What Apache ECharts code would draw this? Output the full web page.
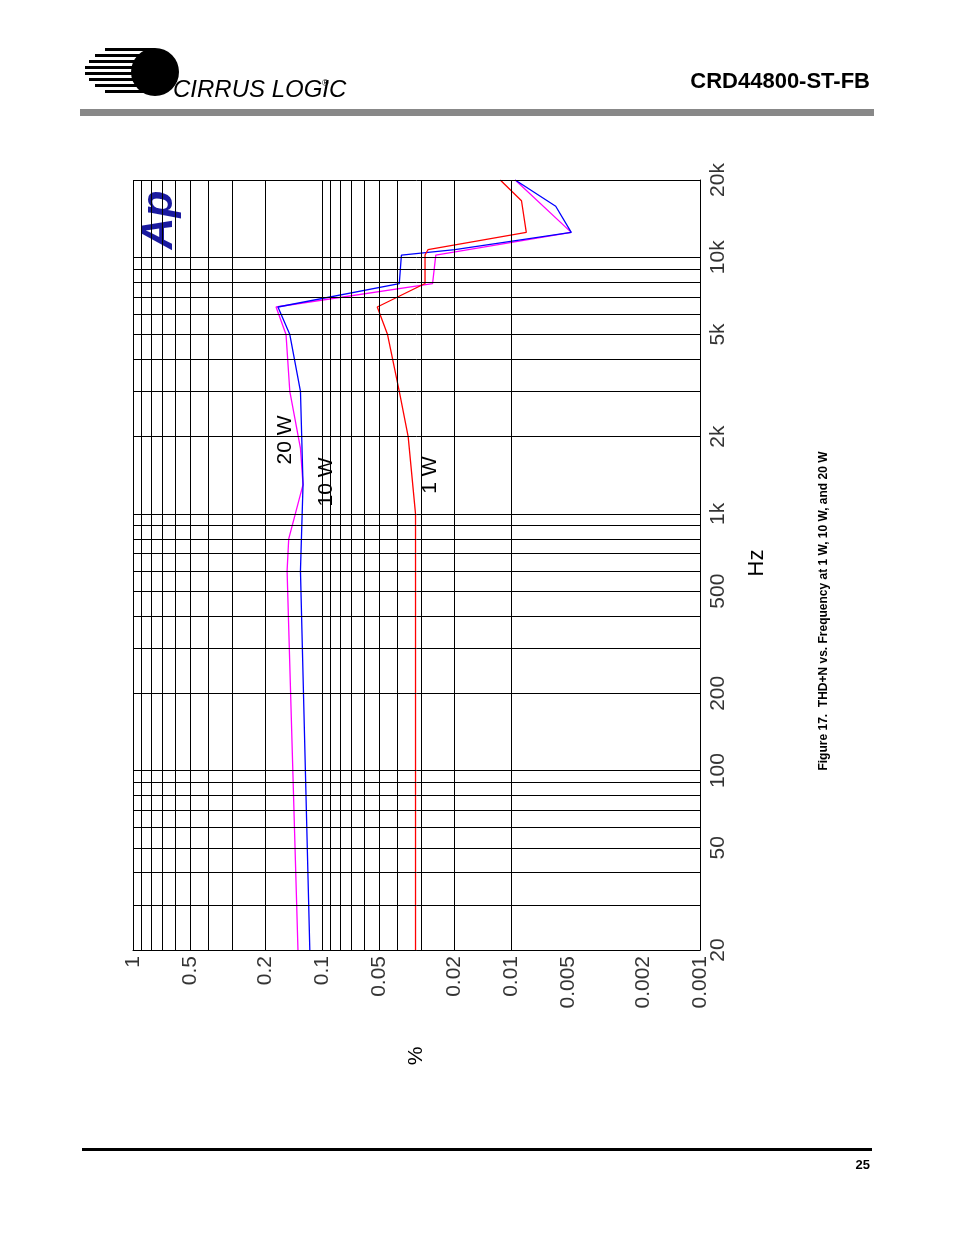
<!DOCTYPE html>
<html><head><meta charset="utf-8">
<script src="https://cdn.jsdelivr.net/npm/echarts@6/dist/echarts.min.js"></script>
<style>html,body{margin:0;padding:0;background:#fff}#c{width:954px;height:1235px}</style>
</head><body><div id="c"></div>
<script>
// Data: frequency (Hz) and THD+N (%)
const freq1W   = [20, 1000, 2000, 3000, 5000, 6400, 7900, 10200, 10700, 12500, 16600, 20000];
const thd1W    = [0.032, 0.032, 0.035, 0.039, 0.045, 0.051, 0.0285, 0.0285, 0.0275, 0.0083, 0.0088, 0.0114];
const freq10W  = [20, 600, 1300, 3000, 5000, 6400, 7900, 10200, 10700, 12500, 15800, 20000];
const thd10W   = [0.116, 0.13, 0.126, 0.13, 0.148, 0.171, 0.039, 0.038, 0.0198, 0.0048, 0.0058, 0.0095];
const freq20W  = [20, 600, 800, 1300, 1800, 3000, 5000, 6400, 7900, 10200, 12500, 20000];
const thd20W   = [0.134, 0.153, 0.15, 0.126, 0.13, 0.148, 0.155, 0.175, 0.026, 0.025, 0.0048, 0.0095];
const freqTickLabels = [20, 50, 100, 200, 500, 1000, 2000, 5000, 10000, 20000];
const freqTickText   = ['20','50','100','200','500','1k','2k','5k','10k','20k'];
const pctTickLabels  = [1, 0.5, 0.2, 0.1, 0.05, 0.02, 0.01, 0.005, 0.002, 0.001];
const pctTickText    = ['1','0.5','0.2','0.1','0.05','0.02','0.01','0.005','0.002','0.001'];
const freqGrid = [20,30,40,50,60,70,80,90,100,200,300,400,500,600,700,800,900,1000,2000,3000,4000,5000,6000,7000,8000,9000,10000,20000];
const pctGrid = [1,0.9,0.8,0.7,0.6,0.5,0.4,0.3,0.2,0.1,0.09,0.08,0.07,0.06,0.05,0.04,0.03,0.02,0.01,0.009,0.008,0.007,0.006,0.005,0.004,0.003,0.002,0.001];

const F = 'Liberation Sans, Arial, sans-serif';
const chart = echarts.init(document.getElementById('c'));
const pair = (fs, ts) => fs.map((f,i)=>[ts[i], f]);
chart.setOption({
  animation:false,
  grid:{left:133,right:254,top:180,bottom:285},
  xAxis:{type:'log',min:0.001,max:1,inverse:true,axisLabel:{show:false},axisTick:{show:false},splitLine:{show:false},axisLine:{lineStyle:{color:'#000'}}},
  yAxis:{type:'log',min:20,max:20000,position:'right',axisLabel:{show:false},axisTick:{show:false},splitLine:{show:false},axisLine:{lineStyle:{color:'#000'}}},
  series:[
    {type:'line',data:[],silent:true,markLine:{silent:true,symbol:'none',animation:false,label:{show:false},lineStyle:{color:'#000',width:1,type:'solid'},
      data:[...pctGrid.map(v=>({xAxis:v})),...freqGrid.map(v=>({yAxis:v}))]}},
    {type:'line',data:pair(freq20W,thd20W),symbol:'none',lineStyle:{color:'#ff00ff',width:1.3}},
    {type:'line',data:pair(freq10W,thd10W),symbol:'none',lineStyle:{color:'#0000ff',width:1.3}},
    {type:'line',data:pair(freq1W,thd1W),symbol:'none',lineStyle:{color:'#ff0000',width:1.3}},
    {type:'scatter',symbolSize:0,silent:true,data:freqTickLabels.map((f,i)=>({value:[0.001,f],name:freqTickText[i]})),
      label:{show:true,formatter:p=>p.name,position:'right',distance:8,rotate:90,align:'center',verticalAlign:'top',fontFamily:F,fontSize:21,color:'#000'}},
    {type:'scatter',symbolSize:0,silent:true,data:pctTickLabels.map((v,i)=>({value:[v,20],name:pctTickText[i]})),
      label:{show:true,formatter:p=>p.name,position:'bottom',distance:6,rotate:90,align:'right',verticalAlign:'middle',fontFamily:F,fontSize:21,color:'#000'}}
  ],
  graphic:[
    {type:'group',left:85,top:48,children:[
      ...[0,6,12,18,24,30,36,42].map((y,i)=>({type:'rect',shape:{x:[20,10,4,0,0,4,10,20][i],y:y,width:70-[20,10,4,0,0,4,10,20][i],height:3},style:{fill:'#000'}})),
      {type:'circle',shape:{cx:70,cy:24,r:24},style:{fill:'#000'}},
      {type:'text',x:88,y:30,style:{text:'CIRRUS LOGIC',font:'italic 24px '+F,fill:'#000'}},
      {type:'text',x:237,y:31,style:{text:'®',font:'9px '+F,fill:'#000'}}
    ]},
    {type:'text',right:84,top:71,style:{text:'CRD44800-ST-FB',font:'bold 22px '+F,fill:'#000'}},
    {type:'rect',shape:{x:80,y:109,width:794,height:7},style:{fill:'#888'}},
    {type:'rect',shape:{x:82,y:1148,width:790,height:3},style:{fill:'#000'}},
    {type:'text',right:84,top:1159,style:{text:'25',font:'bold 13px '+F,fill:'#000'}},
    {type:'text',x:160,y:220,rotation:Math.PI/2,style:{text:'Ap',font:'italic bold 44px '+F,fill:'#1a1aa0',align:'center',verticalAlign:'middle'}},
    {type:'text',x:285,y:440,rotation:Math.PI/2,style:{text:'20 W',font:'21px '+F,fill:'#000',align:'center',verticalAlign:'middle'}},
    {type:'text',x:326,y:482,rotation:Math.PI/2,style:{text:'10 W',font:'21px '+F,fill:'#000',align:'center',verticalAlign:'middle'}},
    {type:'text',x:430,y:475,rotation:Math.PI/2,style:{text:'1 W',font:'21px '+F,fill:'#000',align:'center',verticalAlign:'middle'}},
    {type:'text',x:757,y:563,rotation:Math.PI/2,style:{text:'Hz',font:'22px '+F,fill:'#000',align:'center',verticalAlign:'middle'}},
    {type:'text',x:416,y:1056,rotation:Math.PI/2,style:{text:'%',font:'21px '+F,fill:'#000',align:'center',verticalAlign:'middle'}},
    {type:'text',x:824,y:611,rotation:Math.PI/2,style:{text:'Figure 17.  THD+N vs. Frequency at 1 W, 10 W, and 20 W',font:'bold 12px '+F,fill:'#000',align:'center',verticalAlign:'middle'}}
  ]
});
</script></body></html>
